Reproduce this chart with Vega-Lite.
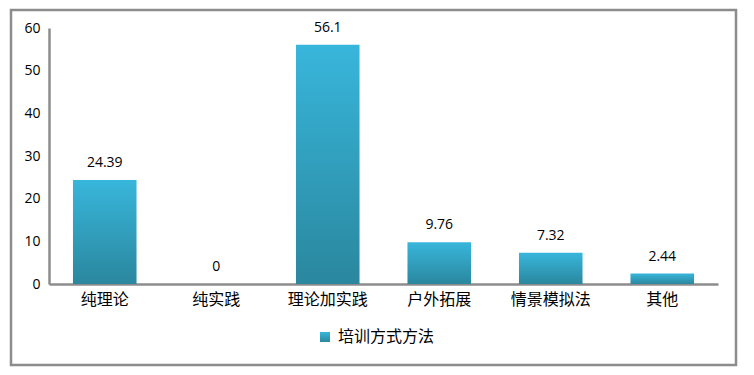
{
  "$schema": "https://vega.github.io/schema/vega-lite/v6.json",
  "width": 725,
  "height": 355,
  "autosize": {"type": "none"},
  "padding": {"left": 11, "top": 10, "right": 18, "bottom": 10},
  "background": "white",
  "config": {
    "view": {"stroke": "#8c8c8c", "strokeWidth": 2.5},
    "font": "Noto Sans CJK SC"
  },
  "data": {
    "values": [
      {"方式": "纯理论", "值": 24.39, "系列": "培训方式方法"},
      {"方式": "纯实践", "值": 0, "系列": "培训方式方法"},
      {"方式": "理论加实践", "值": 56.1, "系列": "培训方式方法"},
      {"方式": "户外拓展", "值": 9.76, "系列": "培训方式方法"},
      {"方式": "情景模拟法", "值": 7.32, "系列": "培训方式方法"},
      {"方式": "其他", "值": 2.44, "系列": "培训方式方法"}
    ]
  },
  "encoding": {
    "x": {
      "field": "方式",
      "type": "nominal",
      "sort": null,
      "scale": {"range": [38, 707], "paddingInner": 0.43, "paddingOuter": 0.215},
      "axis": {
        "title": null,
        "orient": "bottom",
        "offset": -81,
        "labelAngle": 0,
        "labelFontSize": 16,
        "labelColor": "#000000",
        "labelPadding": 7,
        "labelFont": "Noto Sans CJK SC",
        "ticks": false,
        "domainColor": "#8c8c8c",
        "domainWidth": 2.5,
        "grid": false
      }
    },
    "y": {
      "field": "值",
      "type": "quantitative",
      "scale": {"domain": [0, 60], "nice": false, "range": [274, 18]},
      "axis": {
        "title": null,
        "orient": "left",
        "offset": -38,
        "values": [0, 10, 20, 30, 40, 50, 60],
        "labelFontSize": 14,
        "labelColor": "#000000",
        "labelFont": "Open Sans",
        "labelPadding": 9,
        "ticks": false,
        "domainColor": "#8c8c8c",
        "domainWidth": 2.5,
        "grid": false
      }
    }
  },
  "layer": [
    {
      "mark": {
        "type": "bar",
        "fill": {
          "gradient": "linear",
          "x1": 0, "y1": 0, "x2": 0, "y2": 1,
          "stops": [
            {"offset": 0, "color": "#38b6db"},
            {"offset": 1, "color": "#2a879e"}
          ]
        }
      },
      "encoding": {
        "opacity": {
          "field": "系列",
          "type": "nominal",
          "scale": {"range": [1]},
          "legend": {
            "title": null,
            "orient": "none",
            "legendX": 306,
            "legendY": 319,
            "symbolType": "square",
            "symbolSize": 100,
            "symbolFillColor": "#33a7c9",
            "symbolStrokeWidth": 0,
            "labelFontSize": 16,
            "labelColor": "#000000",
            "labelFont": "Noto Sans CJK SC",
            "labelOffset": 5
          }
        }
      }
    },
    {
      "mark": {
        "type": "text",
        "baseline": "bottom",
        "dy": -10,
        "fontSize": 14,
        "font": "Open Sans",
        "color": "#000000"
      },
      "encoding": {
        "text": {"field": "值", "type": "quantitative"}
      }
    }
  ]
}
